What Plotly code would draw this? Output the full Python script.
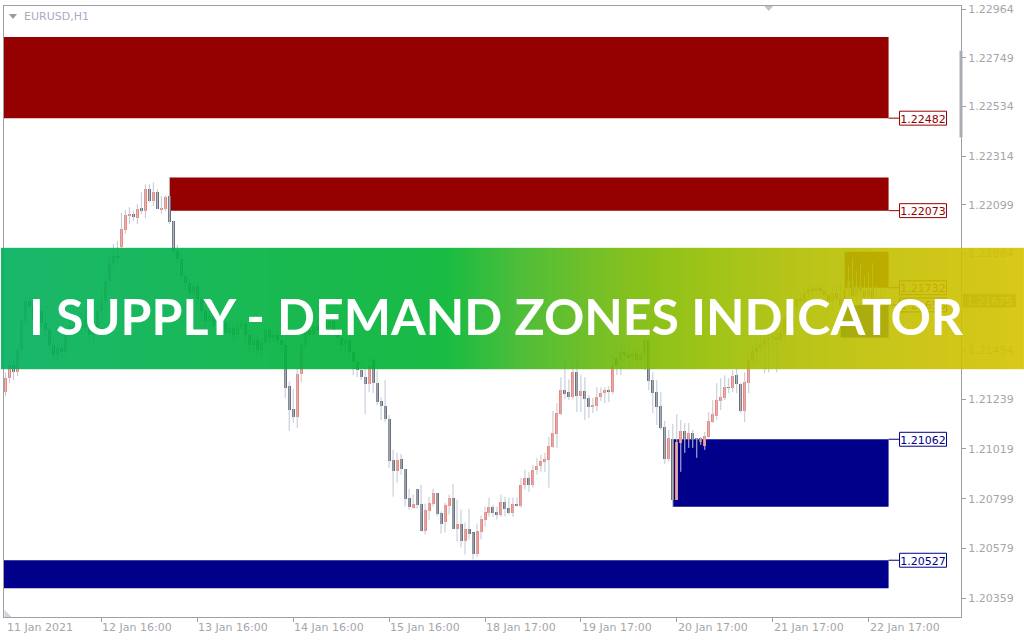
import base64
import struct
import zlib
import plotly.graph_objects as go

# ---------------- data ----------------
opens = [1.21270, 1.21332, 1.21389, 1.21358, 1.21455, 1.21587, 1.21675, 1.21653, 1.21596, 1.21631,
         1.21578, 1.21543, 1.21477, 1.21433, 1.21464, 1.21446, 1.21521, 1.21565, 1.21534, 1.21587,
         1.21552, 1.21596, 1.21521, 1.21543, 1.21631, 1.21675, 1.21763, 1.21842, 1.21873, 1.21912,
         1.21987, 1.22049, 1.22058, 1.22040, 1.22084, 1.22071, 1.22168, 1.22115, 1.22154, 1.22075,
         1.22080, 1.22137, 1.22027, 1.21895, 1.21860, 1.21785, 1.21754, 1.21710, 1.21741, 1.21684,
         1.21631, 1.21587, 1.21609, 1.21565, 1.21543, 1.21578, 1.21534, 1.21552, 1.21521, 1.21560,
         1.21578, 1.21521, 1.21477, 1.21499, 1.21455, 1.21490, 1.21543, 1.21508, 1.21521, 1.21499,
         1.21477, 1.21297, 1.21195, 1.21160, 1.21349, 1.21477, 1.21543, 1.21521, 1.21565, 1.21543,
         1.21578, 1.21552, 1.21587, 1.21543, 1.21508, 1.21477, 1.21499, 1.21446, 1.21402, 1.21367,
         1.21336, 1.21305, 1.21411, 1.21310, 1.21231, 1.21208, 1.21151, 1.20971, 1.20923, 1.20975,
         1.20931, 1.20804, 1.20760, 1.20843, 1.20777, 1.20658, 1.20746, 1.20777, 1.20826, 1.20738,
         1.20694, 1.20768, 1.20804, 1.20667, 1.20689, 1.20614, 1.20667, 1.20650, 1.20553, 1.20654,
         1.20707, 1.20738, 1.20764, 1.20742, 1.20729, 1.20786, 1.20760, 1.20738, 1.20777, 1.20768,
         1.20861, 1.20892, 1.20861, 1.20927, 1.20945, 1.20962, 1.20971, 1.21028, 1.21085, 1.21173,
         1.21279, 1.21270, 1.21248, 1.21358, 1.21253, 1.21275, 1.21244, 1.21204, 1.21208, 1.21248,
         1.21266, 1.21279, 1.21270, 1.21420, 1.21411, 1.21446, 1.21433, 1.21420, 1.21442, 1.21411,
         1.21433, 1.21499, 1.21323, 1.21270, 1.21208, 1.21116, 1.20975, 1.21063, 1.20795, 1.21046,
         1.21099, 1.21063, 1.21090, 1.21068, 1.21068, 1.21033, 1.21072, 1.21138, 1.21165, 1.21231,
         1.21244, 1.21292, 1.21288, 1.21345, 1.21305, 1.21187, 1.21310, 1.21411, 1.21446, 1.21464,
         1.21477, 1.21499, 1.21508, 1.21516, 1.21499, 1.21534, 1.21596, 1.21565, 1.21653, 1.21684,
         1.21675, 1.21710, 1.21728, 1.21719, 1.21732, 1.21719, 1.21701, 1.21675, 1.21710, 1.21684,
         1.21653, 1.21728, 1.21763, 1.21697, 1.21741, 1.21719, 1.21692, 1.21728, 1.21684, 1.21666]
highs = [1.21358, 1.21411, 1.21420, 1.21477, 1.21604, 1.21692, 1.21701, 1.21675, 1.21653, 1.21648,
         1.21604, 1.21560, 1.21508, 1.21486, 1.21499, 1.21543, 1.21596, 1.21587, 1.21613, 1.21622,
         1.21631, 1.21613, 1.21560, 1.21675, 1.21719, 1.21798, 1.21873, 1.21926, 1.21939, 1.22062,
         1.22075, 1.22088, 1.22071, 1.22102, 1.22154, 1.22190, 1.22190, 1.22198, 1.22168, 1.22137,
         1.22141, 1.22220, 1.22027, 1.21921, 1.21886, 1.21807, 1.21772, 1.21763, 1.21754, 1.21697,
         1.21653, 1.21631, 1.21640, 1.21596, 1.21596, 1.21596, 1.21578, 1.21569, 1.21587, 1.21609,
         1.21596, 1.21543, 1.21534, 1.21521, 1.21508, 1.21560, 1.21560, 1.21543, 1.21543, 1.21521,
         1.21508, 1.21318, 1.21283, 1.21380, 1.21499, 1.21565, 1.21578, 1.21587, 1.21596, 1.21609,
         1.21596, 1.21613, 1.21604, 1.21565, 1.21534, 1.21516, 1.21516, 1.21464, 1.21433, 1.21402,
         1.21380, 1.21433, 1.21433, 1.21367, 1.21248, 1.21323, 1.21169, 1.21015, 1.21002, 1.20997,
         1.20931, 1.20843, 1.20817, 1.20843, 1.20861, 1.20777, 1.20808, 1.20843, 1.20826, 1.20742,
         1.20782, 1.20817, 1.20865, 1.20795, 1.20751, 1.20694, 1.20755, 1.20650, 1.20689, 1.20725,
         1.20764, 1.20804, 1.20773, 1.20764, 1.20817, 1.20808, 1.20804, 1.20804, 1.20804, 1.20892,
         1.20927, 1.20918, 1.20949, 1.20980, 1.20993, 1.21002, 1.21072, 1.21187, 1.21222, 1.21336,
         1.21411, 1.21327, 1.21411, 1.21411, 1.21349, 1.21336, 1.21257, 1.21244, 1.21292, 1.21292,
         1.21292, 1.21297, 1.21433, 1.21455, 1.21477, 1.21477, 1.21464, 1.21464, 1.21472, 1.21455,
         1.21530, 1.21508, 1.21358, 1.21323, 1.21270, 1.21143, 1.21103, 1.21129, 1.21173, 1.21147,
         1.21134, 1.21134, 1.21103, 1.21068, 1.21072, 1.21094, 1.21182, 1.21235, 1.21310, 1.21332,
         1.21345, 1.21332, 1.21367, 1.21380, 1.21310, 1.21358, 1.21433, 1.21477, 1.21499, 1.21521,
         1.21521, 1.21543, 1.21530, 1.21543, 1.21565, 1.21613, 1.21631, 1.21675, 1.21706, 1.21710,
         1.21728, 1.21750, 1.21745, 1.21750, 1.21754, 1.21736, 1.21728, 1.21741, 1.21745, 1.21763,
         1.21860, 1.21829, 1.21864, 1.21807, 1.21842, 1.21785, 1.21807, 1.21842, 1.21741, 1.21719]
lows = [1.21253, 1.21310, 1.21323, 1.21341, 1.21433, 1.21565, 1.21631, 1.21578, 1.21560, 1.21552,
        1.21516, 1.21455, 1.21411, 1.21402, 1.21420, 1.21428, 1.21499, 1.21508, 1.21516, 1.21530,
        1.21534, 1.21499, 1.21477, 1.21525, 1.21609, 1.21653, 1.21741, 1.21807, 1.21829, 1.21895,
        1.21970, 1.22014, 1.22027, 1.22014, 1.22058, 1.22040, 1.22110, 1.22093, 1.22080, 1.22058,
        1.22071, 1.22014, 1.21868, 1.21842, 1.21763, 1.21719, 1.21684, 1.21675, 1.21653, 1.21609,
        1.21556, 1.21552, 1.21543, 1.21516, 1.21508, 1.21512, 1.21499, 1.21490, 1.21499, 1.21543,
        1.21477, 1.21446, 1.21424, 1.21428, 1.21420, 1.21464, 1.21477, 1.21490, 1.21464, 1.21446,
        1.21244, 1.21099, 1.21134, 1.21112, 1.21314, 1.21455, 1.21490, 1.21499, 1.21516, 1.21521,
        1.21530, 1.21534, 1.21516, 1.21477, 1.21455, 1.21446, 1.21420, 1.21345, 1.21336, 1.21323,
        1.21173, 1.21270, 1.21266, 1.21213, 1.21147, 1.21138, 1.20936, 1.20808, 1.20870, 1.20905,
        1.20764, 1.20751, 1.20755, 1.20755, 1.20654, 1.20641, 1.20703, 1.20764, 1.20720, 1.20645,
        1.20650, 1.20729, 1.20663, 1.20610, 1.20584, 1.20553, 1.20619, 1.20531, 1.20540, 1.20619,
        1.20676, 1.20720, 1.20720, 1.20707, 1.20720, 1.20720, 1.20729, 1.20720, 1.20764, 1.20760,
        1.20839, 1.20830, 1.20848, 1.20905, 1.20918, 1.20918, 1.20848, 1.21024, 1.21024, 1.21169,
        1.21239, 1.21235, 1.21239, 1.21182, 1.21182, 1.21147, 1.21156, 1.21178, 1.21187, 1.21231,
        1.21222, 1.21226, 1.21261, 1.21345, 1.21345, 1.21402, 1.21385, 1.21389, 1.21376, 1.21385,
        1.21367, 1.21279, 1.21178, 1.21125, 1.21103, 1.20953, 1.20962, 1.20764, 1.20795, 1.20918,
        1.21002, 1.21024, 1.21024, 1.20980, 1.21037, 1.21015, 1.21068, 1.21134, 1.21147, 1.21191,
        1.21235, 1.21266, 1.21270, 1.21266, 1.21178, 1.21138, 1.21266, 1.21389, 1.21402, 1.21442,
        1.21354, 1.21358, 1.21477, 1.21358, 1.21477, 1.21499, 1.21543, 1.21552, 1.21622, 1.21648,
        1.21653, 1.21684, 1.21692, 1.21701, 1.21692, 1.21675, 1.21653, 1.21631, 1.21662, 1.21587,
        1.21622, 1.21675, 1.21675, 1.21653, 1.21684, 1.21653, 1.21675, 1.21657, 1.21640, 1.21648]
closes = [1.21332, 1.21389, 1.21358, 1.21455, 1.21587, 1.21675, 1.21653, 1.21596, 1.21631, 1.21578,
          1.21543, 1.21477, 1.21433, 1.21464, 1.21446, 1.21521, 1.21565, 1.21534, 1.21587, 1.21552,
          1.21596, 1.21521, 1.21543, 1.21631, 1.21675, 1.21763, 1.21842, 1.21873, 1.21864, 1.21992,
          1.22053, 1.22058, 1.22044, 1.22080, 1.22071, 1.22168, 1.22115, 1.22154, 1.22080, 1.22084,
          1.22132, 1.22022, 1.21895, 1.21860, 1.21785, 1.21754, 1.21710, 1.21741, 1.21684, 1.21631,
          1.21587, 1.21609, 1.21565, 1.21543, 1.21578, 1.21534, 1.21552, 1.21521, 1.21560, 1.21578,
          1.21521, 1.21477, 1.21499, 1.21455, 1.21490, 1.21543, 1.21508, 1.21521, 1.21499, 1.21477,
          1.21288, 1.21191, 1.21160, 1.21349, 1.21477, 1.21543, 1.21521, 1.21565, 1.21543, 1.21578,
          1.21552, 1.21587, 1.21543, 1.21508, 1.21477, 1.21499, 1.21446, 1.21402, 1.21367, 1.21336,
          1.21305, 1.21385, 1.21310, 1.21226, 1.21208, 1.21151, 1.20966, 1.20923, 1.20971, 1.20931,
          1.20799, 1.20764, 1.20777, 1.20773, 1.20658, 1.20751, 1.20782, 1.20826, 1.20733, 1.20689,
          1.20773, 1.20804, 1.20667, 1.20689, 1.20614, 1.20667, 1.20641, 1.20553, 1.20658, 1.20711,
          1.20742, 1.20764, 1.20738, 1.20729, 1.20786, 1.20755, 1.20738, 1.20777, 1.20768, 1.20861,
          1.20892, 1.20861, 1.20927, 1.20945, 1.20966, 1.20975, 1.21033, 1.21090, 1.21178, 1.21279,
          1.21261, 1.21248, 1.21358, 1.21253, 1.21275, 1.21239, 1.21204, 1.21213, 1.21248, 1.21266,
          1.21279, 1.21270, 1.21389, 1.21385, 1.21446, 1.21433, 1.21420, 1.21442, 1.21411, 1.21433,
          1.21499, 1.21318, 1.21266, 1.21204, 1.21112, 1.20975, 1.21068, 1.20795, 1.21050, 1.21099,
          1.21063, 1.21090, 1.21063, 1.21063, 1.21050, 1.21077, 1.21143, 1.21173, 1.21235, 1.21248,
          1.21292, 1.21288, 1.21341, 1.21305, 1.21187, 1.21314, 1.21411, 1.21446, 1.21464, 1.21477,
          1.21499, 1.21508, 1.21516, 1.21499, 1.21534, 1.21596, 1.21565, 1.21653, 1.21684, 1.21675,
          1.21710, 1.21728, 1.21719, 1.21732, 1.21719, 1.21701, 1.21675, 1.21710, 1.21684, 1.21653,
          1.21728, 1.21763, 1.21697, 1.21741, 1.21719, 1.21692, 1.21728, 1.21684, 1.21666, 1.21675]

x_tick_bars = [0, 24, 48, 72, 96, 120, 144, 168, 192, 216]
x_tick_text = ["11 Jan 2021", "12 Jan 16:00", "13 Jan 16:00", "14 Jan 16:00", "15 Jan 16:00",
               "18 Jan 17:00", "19 Jan 17:00", "20 Jan 17:00", "21 Jan 17:00", "22 Jan 17:00"]
y_tick_vals = [1.22964, 1.22749, 1.22534, 1.22314, 1.22099, 1.21884,
               1.21454, 1.21239, 1.21019, 1.20799, 1.20579, 1.20359]
current_price = 1.21675

zone_kind = ["supply", "supply", "supply", "demand", "demand", "demand"]
zone_start = [-2, 41, 210, 209, 167, -2]
zone_end = [221, 221, 221, 221, 221, 221]
zone_top = [1.22841, 1.22220, 1.21891, 1.21656, 1.21062, 1.20527]
zone_bottom = [1.22482, 1.22073, 1.21732, 1.21512, 1.20764, 1.20403]

banner_text = "I SUPPLY - DEMAND ZONES INDICATOR"
symbol_text = "EURUSD,H1"

# ---------------- style / geometry ----------------
W, H = 1024, 640
ML, MR, MT, MB = 3, 63, 3, 23
PW, PH = W - ML - MR, H - MT - MB
X_RANGE = [-0.375, 239.125]
Y_RANGE = [1.20276, 1.22978]
BAR_PX = PW / (X_RANGE[1] - X_RANGE[0])
PRICE_PX = (Y_RANGE[1] - Y_RANGE[0]) / PH

BULL = "#FA8072"
BEAR = "#6A6F78"
WICK = "#BEC7D6"
SUPPLY = "#950000"
DEMAND = "#00008B"
AXIS = "#A0A0A0"
TEXT = "#A3A6AC"
FONT = "DejaVu Sans"
BANNER_ALPHA = 0.9


def px_x(p):
    return (p - ML) / PW


def px_y(p):
    return (H - MB - p) / PH


n = len(closes)
idx = list(range(n))

# wicks
wx, wy = [], []
for i in idx:
    wx += [i, i, None]
    wy += [lows[i], highs[i], None]

body_base = [min(o, c) for o, c in zip(opens, closes)]
body_len = [max(abs(c - o), PRICE_PX * 0.9) for o, c in zip(opens, closes)]
body_col = [BULL if c > o else BEAR for o, c in zip(opens, closes)]

fig = go.Figure()
fig.add_trace(go.Scatter(x=wx, y=wy, mode="lines", line=dict(color=WICK, width=1),
                         hoverinfo="skip", showlegend=False))
fig.add_trace(go.Bar(x=idx, y=body_len, base=body_base, width=0.75,
                     marker=dict(color=body_col, line=dict(width=0)),
                     hoverinfo="skip", showlegend=False))

shapes = []
# zones (behind candles)
for k, s, e, t, b in zip(zone_kind, zone_start, zone_end, zone_top, zone_bottom):
    col = SUPPLY if k == "supply" else DEMAND
    shapes.append(dict(type="rect", xref="x", yref="y", x0=s, x1=e, y0=b, y1=t,
                       fillcolor=col, line=dict(width=0), layer="below"))
# zone price labels
for k, e, t, b in zip(zone_kind, zone_end, zone_top, zone_bottom):
    col = SUPPLY if k == "supply" else DEMAND
    lab = b if k == "supply" else t
    gx0 = e + 11 / BAR_PX
    gx1 = e + 58 / BAR_PX
    hh = 7 * PRICE_PX
    shapes.append(dict(type="line", xref="x", yref="y", x0=e, x1=gx0, y0=lab, y1=lab,
                       line=dict(color=col, width=1), layer="below"))
    shapes.append(dict(type="rect", xref="x", yref="y", x0=gx0, x1=gx1, y0=lab - hh, y1=lab + hh,
                       fillcolor="white", line=dict(color=col, width=1), layer="below",
                       label=dict(text=f"{lab:.5f}", font=dict(family=FONT, size=11, color=col),
                                  textposition="middle center")))
# current price label on the axis
shapes.append(dict(type="rect", xref="paper", yref="y", x0=px_x(963), x1=px_x(1016),
                   y0=current_price - 7 * PRICE_PX, y1=current_price + 7 * PRICE_PX,
                   fillcolor="#8E8E8E", line=dict(width=0), layer="below",
                   label=dict(text=f"{current_price:.5f}", font=dict(family=FONT, size=11, color="#F2F2F2"),
                              textposition="middle center")))
# scroll marker on price axis
shapes.append(dict(type="rect", xref="paper", yref="paper", x0=px_x(959.5), x1=px_x(962.5),
                   y0=px_y(135), y1=px_y(48), fillcolor="#A9ADB1", line=dict(width=0), layer="above"))
# small triangles
shapes.append(dict(type="path", xref="paper", yref="paper",
                   path=f"M {px_x(764)},{px_y(3)} L {px_x(773)},{px_y(3)} L {px_x(768.5)},{px_y(8)} Z",
                   fillcolor="#C4C4C4", line=dict(width=0), layer="above"))
shapes.append(dict(type="path", xref="paper", yref="paper",
                   path=f"M {px_x(8)},{px_y(11)} L {px_x(16)},{px_y(11)} L {px_x(12)},{px_y(16)} Z",
                   fillcolor="#9A9A9A", line=dict(width=0), layer="above"))
shapes.append(dict(type="path", xref="paper", yref="paper",
                   path=f"M {px_x(3.5)},{px_y(610)} L {px_x(3.5)},{px_y(617)} L {px_x(10.5)},{px_y(617)} Z",
                   fillcolor="#CDD3E0", line=dict(width=0), layer="above"))


# banner gradient as an inline PNG
def make_png(rows, width):
    raw = b"".join(b"\x00" + r for r in rows)

    def chunk(tag, data):
        return (struct.pack(">I", len(data)) + tag + data +
                struct.pack(">I", zlib.crc32(tag + data) & 0xFFFFFFFF))

    ihdr = struct.pack(">IIBBBBB", width, len(rows), 8, 2, 0, 0, 0)
    return (b"\x89PNG\r\n\x1a\n" + chunk(b"IHDR", ihdr) +
            chunk(b"IDAT", zlib.compress(raw)) + chunk(b"IEND", b""))


# target colours as seen over white; pre-compensated for the banner transparency
stops = [(0, (0, 184, 108)), (330, (0, 186, 78)), (410, (0, 187, 72)), (520, (80, 190, 58)),
         (620, (130, 193, 34)), (700, (158, 196, 18)), (800, (186, 197, 0)),
         (900, (203, 198, 0)), (1024, (217, 200, 0))]
row = bytearray()
for xp in range(W):
    for j in range(len(stops) - 1):
        a, ca = stops[j]
        b, cb = stops[j + 1]
        if a <= xp <= b:
            f = (xp - a) / (b - a)
            for m in range(3):
                target = ca[m] + (cb[m] - ca[m]) * f
                v = (target - (1 - BANNER_ALPHA) * 255) / BANNER_ALPHA
                row.append(int(round(min(255, max(0, v)))))
            break
png = make_png([bytes(row)], W)
src = "data:image/png;base64," + base64.b64encode(png).decode()

BAN_TOP, BAN_BOT = 246, 368
images = [dict(source=src, xref="paper", yref="paper", x=px_x(0), y=px_y(BAN_TOP),
               sizex=W / PW, sizey=(BAN_BOT - BAN_TOP) / PH, xanchor="left", yanchor="top",
               sizing="stretch", opacity=BANNER_ALPHA, layer="above")]

annotations = [dict(text=banner_text, xref="paper", yref="paper", x=px_x(496), y=px_y(315),
                    xanchor="center", yanchor="middle", showarrow=False,
                    font=dict(family="Lato", size=50, color="white", weight=700)),
               dict(text=symbol_text, xref="paper", yref="paper", x=px_x(21), y=px_y(14),
                    xanchor="left", yanchor="middle", showarrow=False,
                    font=dict(family=FONT, size=11, color="#A6AEC2"))]
for b, t in zip(x_tick_bars, x_tick_text):
    annotations.append(dict(text=t, xref="x", yref="paper", x=b, y=px_y(628),
                            xanchor="left", yanchor="middle", xshift=-1, showarrow=False,
                            font=dict(family=FONT, size=11, color=TEXT)))

fig.update_layout(
    width=W, height=H, autosize=False,
    margin=dict(l=ML, r=MR, t=MT, b=MB, pad=0),
    paper_bgcolor="white", plot_bgcolor="white",
    showlegend=False, bargap=0,
    shapes=shapes, images=images, annotations=annotations,
    xaxis=dict(range=X_RANGE, showgrid=False, zeroline=False, showline=True, mirror=True,
               linecolor=AXIS, linewidth=1, ticks="outside", ticklen=4, tickcolor=AXIS,
               tickvals=x_tick_bars[1:], showticklabels=False, fixedrange=True),
    yaxis=dict(range=Y_RANGE, side="right", showgrid=False, zeroline=False, showline=True,
               mirror=True, linecolor=AXIS, linewidth=1, ticks="outside", ticklen=4,
               tickcolor=AXIS, tickvals=y_tick_vals, ticktext=[f"{v:.5f}" for v in y_tick_vals],
               tickfont=dict(family=FONT, size=11, color=TEXT), fixedrange=True),
)

fig.write_html("out.html", config={"displayModeBar": False, "staticPlot": True},
               post_script="document.body.style.margin='0';")
